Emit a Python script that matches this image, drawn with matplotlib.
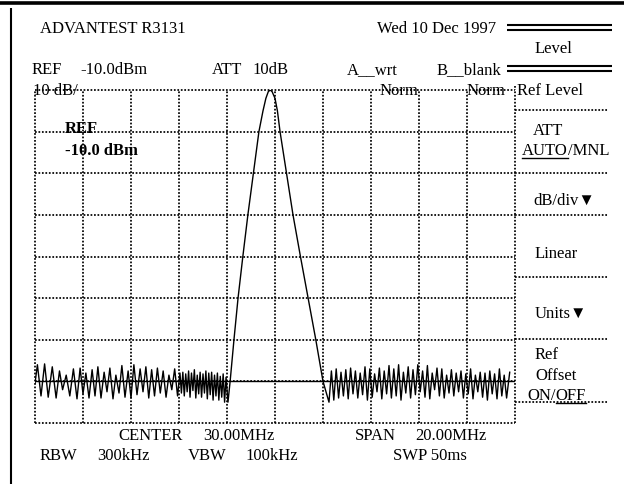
import matplotlib
matplotlib.use("Agg")
import matplotlib.pyplot as plt

plt.rcParams["font.family"] = ["Liberation Serif", "DejaVu Sans"]
plt.rcParams["font.size"] = 12

# trace: frequency (MHz) and level (dBm)
noise_left_mhz = [
    20.00, 20.10, 20.25, 20.40, 20.55, 20.72, 20.88, 21.02, 21.15, 21.30,
    21.45, 21.60, 21.75, 21.88, 22.00, 22.12, 22.25, 22.38, 22.50, 22.62,
    22.75, 22.88, 23.00, 23.12, 23.25, 23.37, 23.50, 23.62, 23.75, 23.88,
    24.00, 24.12, 24.25, 24.38, 24.50, 24.62, 24.74, 24.86, 24.98, 25.10,
    25.22, 25.34, 25.46, 25.58, 25.70, 25.82, 25.94, 26.04, 26.10, 26.16,
    26.22, 26.28, 26.34, 26.40, 26.46, 26.52, 26.58, 26.64, 26.70, 26.76,
    26.82, 26.88, 26.94, 27.00, 27.06, 27.12, 27.18, 27.24, 27.30, 27.36,
    27.42, 27.48, 27.54, 27.60, 27.66, 27.72, 27.78, 27.84, 27.90, 27.96,
    28.04,
]
noise_left_dbm = [
    -80.5, -76.0, -83.5, -75.8, -83.8, -76.5, -84.0, -77.5, -82.0, -78.5,
    -83.5, -77.0, -84.2, -76.8, -83.0, -78.0, -84.0, -77.2, -83.5, -76.5,
    -84.0, -77.8, -82.5, -76.8, -84.2, -78.5, -82.8, -76.2, -83.8, -77.5,
    -84.0, -76.0, -83.2, -77.0, -82.5, -76.5, -84.0, -77.2, -83.5, -76.8,
    -82.8, -77.5, -83.8, -78.5, -82.0, -77.0, -83.5, -78.0, -82.8, -77.8,
    -83.5, -78.2, -82.5, -77.5, -83.8, -78.0, -82.2, -77.2, -84.0, -78.5,
    -83.0, -77.8, -83.8, -78.2, -82.8, -77.5, -84.2, -78.0, -83.2, -77.8,
    -84.5, -78.5, -83.5, -78.0, -84.5, -78.8, -83.8, -78.2, -85.0, -79.0,
    -85.0,
]
peak_mhz = [28.13, 28.29, 28.46, 28.66, 28.87, 29.10, 29.33, 29.50, 29.62, 29.72, 29.80,
            29.88, 30.00, 30.10, 30.21, 30.48, 30.75, 31.06, 31.38, 31.70, 32.00, 32.25]
peak_dbm = [-80, -70, -60, -50, -40, -30, -20, -15, -12, -10.4, -10,
            -10.4, -12, -15, -20, -30, -40, -50, -60, -70, -80, -85]
noise_right_mhz = [
    32.35, 32.45, 32.55, 32.65, 32.75, 32.85, 32.95, 33.05, 33.15, 33.25,
    33.35, 33.45, 33.55, 33.65, 33.75, 33.85, 33.95, 34.05, 34.15, 34.25,
    34.35, 34.45, 34.55, 34.65, 34.75, 34.85, 34.95, 35.05, 35.15, 35.25,
    35.35, 35.45, 35.55, 35.65, 35.75, 35.85, 35.95, 36.05, 36.15, 36.25,
    36.35, 36.45, 36.55, 36.65, 36.75, 36.85, 36.95, 37.05, 37.15, 37.25,
    37.35, 37.45, 37.55, 37.65, 37.75, 37.85, 37.95, 38.05, 38.15, 38.25,
    38.35, 38.45, 38.55, 38.65, 38.75, 38.85, 38.95, 39.05, 39.15, 39.25,
    39.35, 39.45, 39.55, 39.65, 39.78,
]
noise_right_dbm = [
    -77.5, -84.5, -77.0, -84.0, -77.8, -83.5, -77.2, -84.2, -76.8, -83.0,
    -77.5, -84.0, -78.0, -83.2, -76.5, -84.5, -77.0, -83.8, -78.2, -82.5,
    -76.8, -84.2, -77.5, -83.0, -76.2, -84.0, -77.0, -83.5, -76.0, -84.5,
    -77.8, -82.8, -76.5, -84.0, -77.2, -83.2, -76.0, -82.5, -77.5, -83.8,
    -76.2, -84.2, -78.0, -82.0, -76.8, -83.5, -77.0, -84.0, -78.5, -82.8,
    -77.2, -83.5, -78.0, -82.5, -77.5, -84.0, -78.2, -83.0, -77.0, -84.2,
    -78.5, -82.5, -77.8, -83.8, -78.0, -84.5, -77.5, -83.0, -78.2, -84.2,
    -77.0, -83.5, -78.5, -84.0, -77.8,
]

freq_grid = [20, 22, 24, 26, 28, 30, 32, 34, 36, 38, 40]
level_grid = [-90, -80, -70, -60, -50, -40, -30, -20, -10]
display_line = -80

DOTS = (0, (1, 1.0))
DOT_LW = 1.25

fig = plt.figure(figsize=(6.24, 4.84), dpi=100)

# background axes in screen pixels for the frame, soft-key panel and labels
bg = fig.add_axes([0, 0, 1, 1])
bg.set_xlim(0, 624)
bg.set_ylim(484, 0)
bg.axis("off")

bg.plot([0, 624], [2.5, 2.5], color="black", lw=2.6, solid_capstyle="butt")
bg.plot([11, 11], [8, 484], color="black", lw=1.5, solid_capstyle="butt")
for y in (25, 29.5, 66, 70.5):
    bg.plot([507, 612], [y, y], color="black", lw=1.5, solid_capstyle="butt")
for y in (110, 173, 215, 277, 339, 402):
    bg.plot([515, 608], [y, y], color="black", lw=DOT_LW, ls=DOTS)
bg.plot([515, 515], [86, 90], color="black", lw=DOT_LW, ls=DOTS)

# trace area
ax = fig.add_axes([35 / 624, (484 - 423) / 484, 480 / 624, 333 / 484])
ax.set_xlim(20, 40)
ax.set_ylim(-90, -10)
ax.patch.set_alpha(0)
for s in ax.spines.values():
    s.set_visible(False)
ax.set_xticks([])
ax.set_yticks([])
ax.vlines(freq_grid, -90, -10, color="black", lw=DOT_LW, ls=DOTS, clip_on=False)
ax.hlines(level_grid, 20, 40, color="black", lw=DOT_LW, ls=DOTS, clip_on=False)
ax.axhline(display_line, color="black", lw=1.0)

trace_x = noise_left_mhz + peak_mhz + noise_right_mhz
trace_y = noise_left_dbm + peak_dbm + noise_right_dbm
ax.plot(trace_x, trace_y, color="black", lw=1.0, solid_joinstyle="round")

labels = [
    (40, 33, "ADVANTEST R3131"),
    (377, 33, "Wed 10 Dec 1997"),
    (535, 53, "Level"),
    (32, 74, "REF"), (80, 74, "-10.0dBm"),
    (212, 74, "ATT"), (252, 74, "10dB"),
    (347, 74, "A__wrt"), (437, 74, "B__blank"),
    (33, 95, "10 dB/"), (380, 95, "Norm"), (467, 95, "Norm"),
    (517, 95, "Ref Level"),
    (533, 135, "ATT"),
    (533, 205, "dB/div\u25bc"),
    (535, 258, "Linear"),
    (535, 318, "Units\u25bc"),
    (535, 359, "Ref"), (535, 380, "Offset"),
    (118, 440, "CENTER"), (203, 440, "30.00MHz"),
    (355, 440, "SPAN"), (415, 440, "20.00MHz"),
    (40, 460, "RBW"), (97, 460, "300kHz"),
    (188, 460, "VBW"), (245, 460, "100kHz"),
    (393, 460, "SWP 50ms"),
]
for x, y, s in labels:
    bg.text(x, y, s, va="baseline", ha="left")

bg.text(65, 133, "REF", va="baseline", ha="left", weight="bold")
bg.text(65, 155, "-10.0 dBm", va="baseline", ha="left", weight="bold")


def split_label(x, y, first, second, underline_first):
    t1 = bg.text(x, y, first, va="baseline", ha="left")
    fig.canvas.draw()
    ext = t1.get_window_extent().transformed(bg.transData.inverted())
    x1 = ext.x1
    t2 = bg.text(x1, y, second, va="baseline", ha="left")
    if underline_first:
        bg.plot([x, x1], [y + 2.5, y + 2.5], color="black", lw=1.0)
    else:
        fig.canvas.draw()
        ext2 = t2.get_window_extent().transformed(bg.transData.inverted())
        bg.plot([x1, ext2.x1], [y + 2.5, y + 2.5], color="black", lw=1.0)


split_label(522, 155, "AUTO", "/MNL", True)
split_label(527, 400, "ON/", "OFF", False)

fig.savefig("out.png", dpi=100)
